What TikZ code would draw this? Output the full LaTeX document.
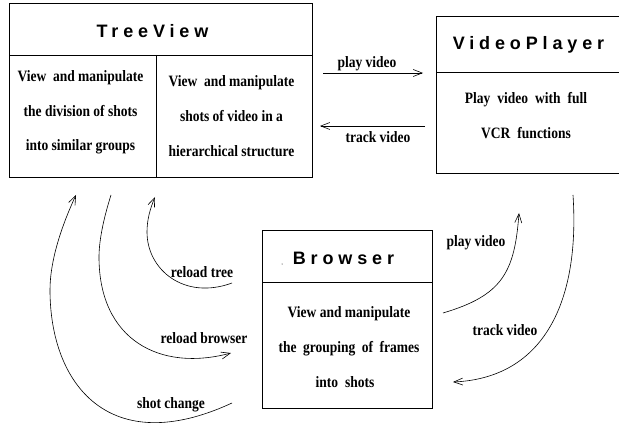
\documentclass[tikz,border=0pt]{standalone}
\usepackage{fontspec}
\setmainfont{Liberation Serif}[FakeStretch=0.855]
\newfontfamily\titlefont[LetterSpace=27]{Liberation Sans}
\usetikzlibrary{arrows.meta}
\begin{document}
\begin{tikzpicture}[x=1pt,y=-1pt,
  box/.style={draw, line width=0.8pt, inner sep=0pt, outer sep=0pt, anchor=north west},
  ttl/.style={font=\titlefont\bfseries\fontsize{18}{18}\selectfont, inner sep=0pt, anchor=base},
  txt/.style={font=\bfseries\fontsize{15.8}{18}\selectfont, inner sep=0pt, anchor=base},
  sep/.style={line width=0.8pt},
  arr/.style={line width=0.6pt, -{Straight Barb[length=9pt,width=7pt]}}]
\useasboundingbox (0,0) rectangle (619,425);

% boxes
\node[box, minimum width=303pt, minimum height=174pt] (tv) at (9,3) {};
\node[box, minimum width=185pt, minimum height=157pt] (vp) at (436,16) {};
\node[box, minimum width=170pt, minimum height=178pt] (br) at (262,230) {};
\draw[sep] (tv.west |- 0,55) -- (tv.east |- 0,55);
\draw[sep] (156,55) -- (tv.south -| 156,0);
\draw[sep] (vp.west |- 0,72) -- (vp.east |- 0,72);
\draw[sep] (br.west |- 0,282) -- (br.east |- 0,282);

% titles
\node[ttl] (tvt) at (152.5,38) {TreeView};
\node[ttl] (vpt) at (528.5,50) {VideoPlayer};
\node[ttl] (brt) at (343.5,265) {Browser};
\fill (282,264) circle (0.5pt);

% box texts
\node[txt] (tvl1) at (80.5,82) {View\ \ and manipulate};
\node[txt] (tvl2) at (80.5,117) {the division of shots};
\node[txt] (tvl3) at (80.5,151) {into similar groups};
\node[txt] (tvr1) at (231.5,87) {View\ \ and manipulate};
\node[txt] (tvr2) at (231.5,122) {shots of video in a};
\node[txt] (tvr3) at (231.5,157) {hierarchical structure};
\node[txt] (vp1) at (526,104) {\spaceskip=7pt Play video with full};
\node[txt] (vp2) at (526,139) {\spaceskip=7pt VCR functions};
\node[txt] (br1) at (349,317) {View and manipulate};
\node[txt] (br2) at (349,352) {\spaceskip=6.5pt the grouping of frames};
\node[txt] (br3) at (345,387) {\spaceskip=7pt into shots};

% straight connectors
\draw[arr, shorten <=11pt, shorten >=13pt] (tv.east |- 0,73) -- (vp.west |- 0,73);
\draw[arr, shorten <=11pt, shorten >=8pt] (vp.west |- 0,126) -- (tv.east |- 0,126);
\node[txt] (l1) at (367,68) {play video};
\node[txt] (l2) at (378,143) {track video};

% curved connectors
\coordinate (rtS) at (232,283); \coordinate (rtE) at (155,197);
\draw[arr] (rtS) .. controls (184.5,300.5) and (147,270) .. (147,232) .. controls (147,220) and (150,209) .. (rtE);
\coordinate (rbS) at (111,195); \coordinate (rbE) at (231,353);
\draw[arr] (rbS) .. controls (105,214) and (99,238) .. (99,257) .. controls (99,340) and (160,372) .. (rbE);
\coordinate (scS) at (232,403); \coordinate (scE) at (76,195);
\draw[arr] (scS) .. controls (109,460) and (50,384) .. (50,290) .. controls (50,260) and (62,225) .. (scE);
\coordinate (pvS) at (443,313); \coordinate (pvE) at (519,213);
\draw[arr] (pvS) .. controls (502.4,295.4) and (514.6,272.4) .. (pvE);
\coordinate (tvS) at (573,195); \coordinate (tvE) at (453,382);
\draw[arr] (tvS) .. controls (580,300) and (545,378) .. (tvE);

\node[txt] (l3) at (202,277) {reload tree};
\node[txt] (l4) at (204,343) {reload browser};
\node[txt] (l5) at (171,408) {shot change};
\node[txt] (l6) at (476,247) {play video};
\node[txt] (l7) at (505,335) {track video};
\end{tikzpicture}
\end{document}
